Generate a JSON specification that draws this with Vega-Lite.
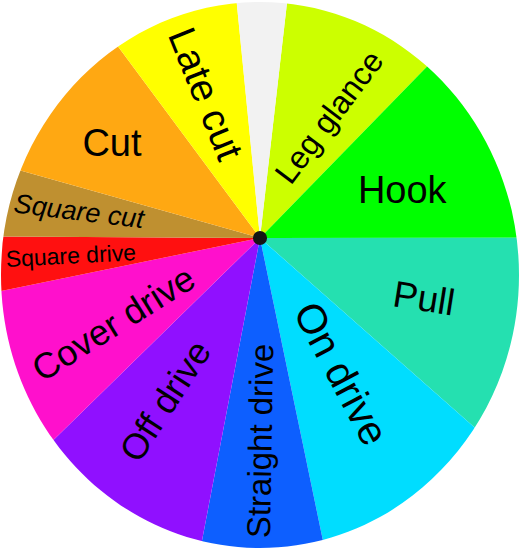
{
  "$schema": "https://vega.github.io/schema/vega-lite/v6.json",
  "width": 520,
  "height": 476,
  "autosize": {"type": "none"},
  "padding": {"left": 0, "top": 0, "right": 0, "bottom": 72},
  "background": "white",
  "view": {"stroke": null},
  "config": {"text": {"font": "Liberation Sans, Arial, sans-serif", "color": "black"}},
  "datasets": {
    "shots": [
      {"shot": "Leg glance", "deg": 37.7, "i": 1},
      {"shot": "Hook", "deg": 45.7, "i": 2},
      {"shot": "Pull", "deg": 41.5, "i": 3},
      {"shot": "On drive", "deg": 36.8, "i": 4},
      {"shot": "Straight drive", "deg": 22.6, "i": 5},
      {"shot": "Off drive", "deg": 34.8, "i": 6},
      {"shot": "Cover drive", "deg": 32.8, "i": 7},
      {"shot": "Square drive", "deg": 11.9, "i": 8},
      {"shot": "Square cut", "deg": 15.4, "i": 9},
      {"shot": "Cut", "deg": 37.7, "i": 10},
      {"shot": "Late cut", "deg": 30.9, "i": 11},
      {"shot": "Unlabelled", "deg": 12.2, "i": 12}
    ],
    "one": [{"k": 1}]
  },
  "data": {"name": "shots"},
  "layer": [
    {
      "mark": {"type": "arc", "radius": 340},
      "encoding": {
        "theta": {"field": "deg", "type": "quantitative", "stack": true, "scale": {"domain": [0, 360], "range": [0.1143, 6.3975]}},
        "order": {"field": "i", "type": "quantitative"},
        "color": {
          "field": "shot", "type": "nominal", "legend": null,
          "scale": {
            "domain": ["Leg glance", "Hook", "Pull", "On drive", "Straight drive", "Off drive", "Cover drive", "Square drive", "Square cut", "Cut", "Late cut", "Unlabelled"],
            "range": ["#CCFF00", "#00FF00", "#25E0B0", "#00DDFF", "#0D5FFF", "#9010FF", "#FF10CC", "#FF1010", "#BF9030", "#FFA812", "#FFFF00", "#F2F2F2"]
          }
        }
      }
    },
    {
      "data": {"name": "one"},
      "mark": {
        "type": "point",
        "shape": "M-8,-8L8,-8L8,8L-8,8Z M2.59,0.37 C2.59,-1.1378 1.4305,-2.36 0,-2.36 C-1.4305,-2.36 -2.59,-1.1378 -2.59,0.37 C-2.59,1.8778 -1.4305,3.1 0,3.1 C1.4305,3.1 2.59,1.8778 2.59,0.37 Z",
        "size": 40000,
        "filled": true,
        "fill": "white",
        "strokeWidth": 0,
        "opacity": 1
      },
      "encoding": {}
    },
    {
      "mark": {"type": "text", "font": "Liberation Sans, Arial, sans-serif", "radius": 154, "angle": 68, "fontSize": 39},
      "encoding": {
        "theta": {"field": "deg", "type": "quantitative", "stack": true},
        "order": {"field": "i", "type": "quantitative"},
        "text": {"condition": {"test": "datum.shot === 'Late cut'", "field": "shot"}, "value": ""}
      }
    },
    {
      "mark": {"type": "text", "font": "Liberation Sans, Arial, sans-serif", "radius": 175, "angle": 0, "fontSize": 38, "dx": -4, "dy": 6},
      "encoding": {
        "theta": {"field": "deg", "type": "quantitative", "stack": true},
        "order": {"field": "i", "type": "quantitative"},
        "text": {"condition": {"test": "datum.shot === 'Cut'", "field": "shot"}, "value": ""}
      }
    },
    {
      "mark": {"type": "text", "font": "Liberation Sans, Arial, sans-serif", "radius": 183, "angle": 7, "fontSize": 27, "fontStyle": "italic"},
      "encoding": {
        "theta": {"field": "deg", "type": "quantitative", "stack": true},
        "order": {"field": "i", "type": "quantitative"},
        "text": {"condition": {"test": "datum.shot === 'Square cut'", "field": "shot"}, "value": ""}
      }
    },
    {
      "mark": {"type": "text", "font": "Liberation Sans, Arial, sans-serif", "radius": 190, "angle": -3, "fontSize": 23},
      "encoding": {
        "theta": {"field": "deg", "type": "quantitative", "stack": true},
        "order": {"field": "i", "type": "quantitative"},
        "text": {"condition": {"test": "datum.shot === 'Square drive'", "field": "shot"}, "value": ""}
      }
    },
    {
      "mark": {"type": "text", "font": "Liberation Sans, Arial, sans-serif", "radius": 168, "angle": -32, "fontSize": 36, "dx": -2, "dy": 8},
      "encoding": {
        "theta": {"field": "deg", "type": "quantitative", "stack": true},
        "order": {"field": "i", "type": "quantitative"},
        "text": {"condition": {"test": "datum.shot === 'Cover drive'", "field": "shot"}, "value": ""}
      }
    },
    {
      "mark": {"type": "text", "font": "Liberation Sans, Arial, sans-serif", "radius": 189, "angle": -57, "fontSize": 36, "dy": -5},
      "encoding": {
        "theta": {"field": "deg", "type": "quantitative", "stack": true},
        "order": {"field": "i", "type": "quantitative"},
        "text": {"condition": {"test": "datum.shot === 'Off drive'", "field": "shot"}, "value": ""}
      }
    },
    {
      "mark": {"type": "text", "font": "Liberation Sans, Arial, sans-serif", "radius": 203, "angle": -89, "fontSize": 33},
      "encoding": {
        "theta": {"field": "deg", "type": "quantitative", "stack": true},
        "order": {"field": "i", "type": "quantitative"},
        "text": {"condition": {"test": "datum.shot === 'Straight drive'", "field": "shot"}, "value": ""}
      }
    },
    {
      "mark": {"type": "text", "font": "Liberation Sans, Arial, sans-serif", "radius": 158, "angle": 62, "fontSize": 41},
      "encoding": {
        "theta": {"field": "deg", "type": "quantitative", "stack": true},
        "order": {"field": "i", "type": "quantitative"},
        "text": {"condition": {"test": "datum.shot === 'On drive'", "field": "shot"}, "value": ""}
      }
    },
    {
      "mark": {"type": "text", "font": "Liberation Sans, Arial, sans-serif", "radius": 175, "angle": 9, "fontSize": 37},
      "encoding": {
        "theta": {"field": "deg", "type": "quantitative", "stack": true},
        "order": {"field": "i", "type": "quantitative"},
        "text": {"condition": {"test": "datum.shot === 'Pull'", "field": "shot"}, "value": ""}
      }
    },
    {
      "mark": {"type": "text", "font": "Liberation Sans, Arial, sans-serif", "radius": 149, "angle": 0, "fontSize": 38, "dx": 5, "dy": 12},
      "encoding": {
        "theta": {"field": "deg", "type": "quantitative", "stack": true},
        "order": {"field": "i", "type": "quantitative"},
        "text": {"condition": {"test": "datum.shot === 'Hook'", "field": "shot"}, "value": ""}
      }
    },
    {
      "mark": {"type": "text", "font": "Liberation Sans, Arial, sans-serif", "radius": 138, "angle": -53, "fontSize": 32, "dx": 3, "dy": 11},
      "encoding": {
        "theta": {"field": "deg", "type": "quantitative", "stack": true},
        "order": {"field": "i", "type": "quantitative"},
        "text": {"condition": {"test": "datum.shot === 'Leg glance'", "field": "shot"}, "value": ""}
      }
    },
    {
      "data": {"name": "one"},
      "mark": {"type": "point", "shape": "circle", "size": 200, "filled": true, "fill": "#151515", "strokeWidth": 0, "opacity": 1},
      "encoding": {}
    }
  ]
}
